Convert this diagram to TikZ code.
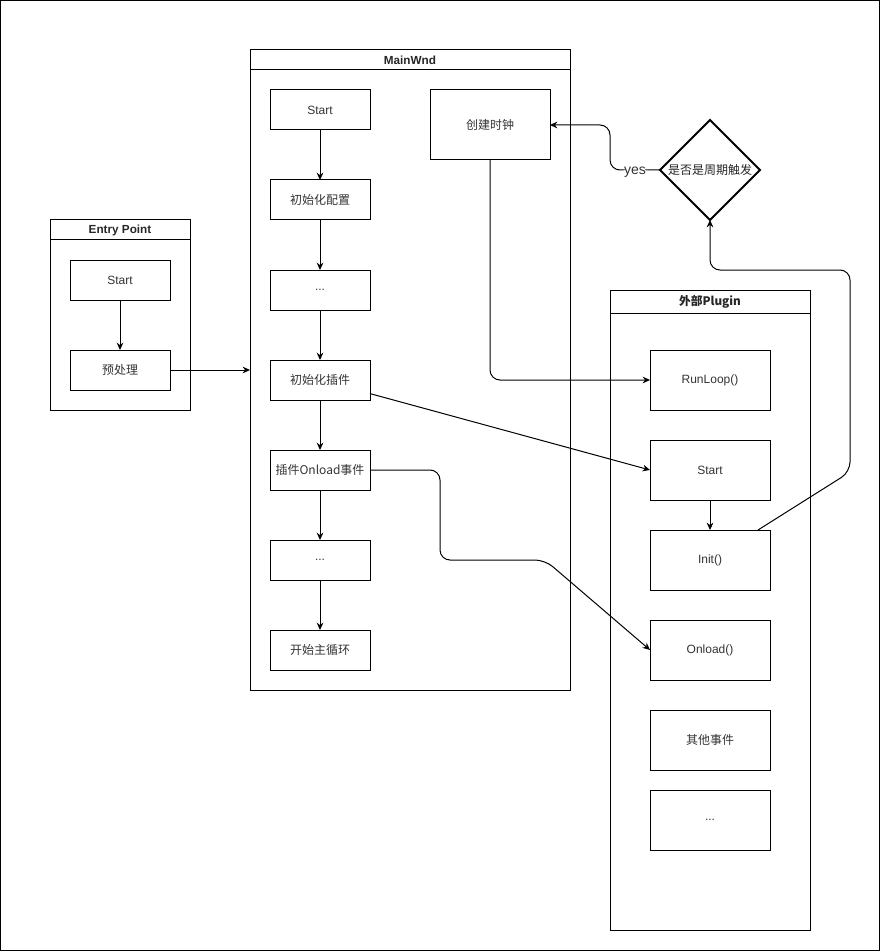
\documentclass[tikz,border=0pt]{standalone}
\usepackage{fontspec}
\setmainfont{Liberation Sans}
\newfontfamily\cjk{Noto Sans CJK SC}
\usepackage{tikz}
\usetikzlibrary{shapes.geometric, arrows.meta, positioning}
\tikzset{
  stepbox/.style={rectangle, draw=black, line width=0.75pt, minimum width=75pt, minimum height=30pt, outer sep=0pt, text centered, text=black!80, font=\fontsize{9}{10}\selectfont, inner sep=1pt},
  bigbox/.style={stepbox, minimum width=90pt, minimum height=45pt},
  lane/.style={rectangle, draw=black, line width=0.75pt, outer sep=0pt, anchor=north west},
  lanetitle/.style={font=\fontsize{8.8}{10}\selectfont\bfseries, text=black!85},
  decision/.style={diamond, aspect=1, draw=black, line width=1.5pt, minimum width=75pt, minimum height=75pt, inner sep=0pt, outer sep=0pt, font=\fontsize{9}{10}\selectfont, text=black!85},
  arrow/.style={line width=0.75pt, -{Stealth[length=5.5pt, width=5pt]}},
  link/.style={arrow, rounded corners=7.5pt}
}
\begin{document}
\begin{tikzpicture}[x=0.75pt, y=-0.75pt, node distance=37.5pt]
\useasboundingbox (0,0) rectangle (881,952);
\draw[line width=0.75pt] (0.5,0.5) rectangle (879.5,950.5);

% Entry Point lane
\node[lane, minimum width=105pt, minimum height=142.5pt] (entry) at (50,220) {};
\draw[line width=0.75pt] (50,240) -- (190,240);
\node[lanetitle] (entry_t) at (120,230) {Entry Point};
\node[stepbox] (e1) at (120,280) {Start};
\node[stepbox, below=of e1] (e2) {\cjk 预处理};
\draw[arrow] (e1) -- (e2);

% MainWnd lane
\node[lane, minimum width=240pt, minimum height=480pt] (main) at (250,50) {};
\draw[line width=0.75pt] (250,70) -- (570,70);
\node[lanetitle] (main_t) at (410,60) {MainWnd};
\node[stepbox] (m1) at (320,110) {Start};
\node[stepbox, below=of m1] (m2) {\cjk 初始化配置};
\node[stepbox, below=of m2] (m3) {...};
\node[stepbox, below=of m3] (m4) {\cjk 初始化插件};
\node[stepbox, below=of m4] (m5) {\cjk 插件Onload事件};
\node[stepbox, below=of m5] (m6) {...};
\node[stepbox, below=of m6] (m7) {\cjk 开始主循环};
\node[bigbox, minimum height=52.5pt] (clock) at (490,125) {\cjk 创建时钟};

\draw[arrow] (m1) -- (m2);
\draw[arrow] (m2) -- (m3);
\draw[arrow] (m3) -- (m4);
\draw[arrow] (m4) -- (m5);
\draw[arrow] (m5) -- (m6);
\draw[arrow] (m6) -- (m7);
\draw[arrow] (e2) -- (e2.east -| main.west);

% Plugin lane
\node[lane, minimum width=150pt, minimum height=480pt] (plug) at (610,290) {};
\draw[line width=0.75pt] (610,313) -- (810,313);
\node[lanetitle] (plug_t) at (710,301.5) {\cjk 外部Plugin};
\node[bigbox] (p1) at (710,380) {RunLoop()};
\node[bigbox, below=22.5pt of p1] (p2) {Start};
\node[bigbox, below=22.5pt of p2] (p3) {Init()};
\node[bigbox, below=22.5pt of p3] (p4) {Onload()};
\node[bigbox, below=22.5pt of p4] (p5) {\cjk 其他事件};
\node[bigbox, below=15pt of p5] (p6) {...};
\draw[arrow] (p2) -- (p3);

% Timer check
\node[decision] (check) at (710,170) {\cjk 是否是周期触发};

% Connectors
\draw[link] (clock.south) |- (p1.west);
\draw[arrow] (m4) -- (p2.west);
\draw[link] (m5.east) -- (440,470) -- (440,560) -- (545,560) -- (p4.west);
\draw[link] (758,530) -- (850,472) -- (850,270) -- (710,270) -- (check.south);
\draw[link] (check.west) -- node[fill=white, inner sep=1pt, yshift=-1.5pt, font=\fontsize{10.5}{12}\selectfont, text=black!80] (yes) {yes}
  (610,170) -- (610,125) -- (clock.east);
\end{tikzpicture}
\end{document}
